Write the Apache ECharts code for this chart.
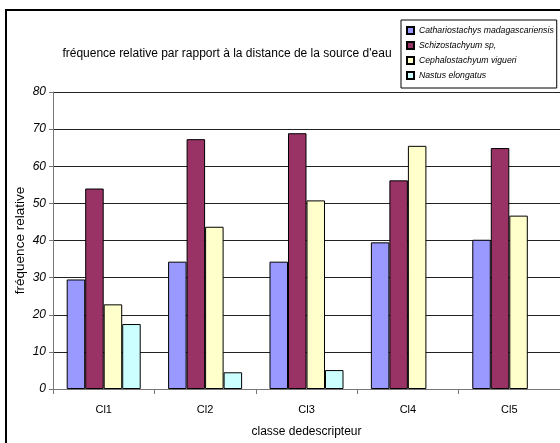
<!DOCTYPE html>
<html>
<head>
<meta charset="utf-8">
<style>
  html, body { margin: 0; padding: 0; background: #fff; }
  #chart { width: 560px; height: 443px; }
</style>
<script src="https://cdn.jsdelivr.net/npm/echarts@6/dist/echarts.min.js"></script>
</head>
<body>
<div id="chart"></div>
<script>
// Distance classes and relative frequency per bamboo species
const categories = ['Cl1', 'Cl2', 'Cl3', 'Cl4', 'Cl5'];
const speciesNames = [
  'Cathariostachys madagascariensis',
  'Schizostachyum sp,',
  'Cephalostachyum vigueri',
  'Nastus elongatus'
];
const cathariostachys = [29.5, 34.3, 34.3, 39.5, 40.2];
const schizostachyum = [54.0, 67.3, 68.9, 56.2, 64.9];
const cephalostachyum = [22.8, 43.7, 50.8, 65.5, 46.7];
const nastus = [17.5, 4.5, 5.1, null, null];
const yTicks = [0, 10, 20, 30, 40, 50, 60, 70, 80];

const seriesValues = [cathariostachys, schizostachyum, cephalostachyum, nastus];
const colors = ['#9999FF', '#993366', '#FFFFCC', '#CCFFFF'];

const chart = echarts.init(document.getElementById('chart'), null, { renderer: 'canvas' });

const font = 'Liberation Sans, Arial, sans-serif';

chart.setOption({
  animation: false,
  backgroundColor: '#fff',
  textStyle: { fontFamily: font, color: '#000' },
  title: {
    text: 'fréquence relative par rapport à la distance de la source d\'eau',
    left: 222,
    top: 43,
    textAlign: 'center',
    textStyle: { fontSize: 12, fontWeight: 'normal', color: '#000', fontFamily: font }
  },
  legend: {
    data: speciesNames,
    orient: 'vertical',
    left: 401,
    top: 20,
    padding: [3, 3, 5, 5],
    itemWidth: 7,
    itemHeight: 7,
    itemGap: 0,
    icon: 'rect',
    backgroundColor: '#fff',
    borderColor: '#000',
    borderWidth: 1,
    borderRadius: 0,
    textStyle: { fontSize: 8.7, fontStyle: 'italic', color: '#000', fontFamily: font, lineHeight: 15 }
  },
  graphic: [{
    type: 'rect',
    shape: { x: 6, y: 10, width: 620, height: 500 },
    style: { fill: 'none', stroke: '#000', lineWidth: 2 },
    z: 0,
    silent: true
  }],
  grid: { left: 53, top: 92, right: 0, bottom: 54, containLabel: false, outerBoundsMode: 'none' },
  xAxis: {
    type: 'category',
    data: categories,
    name: 'classe dedescripteur',
    nameLocation: 'middle',
    nameGap: 37,
    nameMoveOverlap: false,
    nameTextStyle: { fontSize: 12, color: '#000' },
    axisLine: { lineStyle: { color: '#777', width: 1 } },
    axisTick: { show: true, length: 5, lineStyle: { color: '#777' } },
    axisLabel: { fontSize: 11, color: '#000', margin: 15 }
  },
  yAxis: {
    type: 'value',
    min: yTicks[0],
    max: yTicks[yTicks.length - 1],
    interval: 10,
    name: 'fréquence relative',
    nameLocation: 'middle',
    nameGap: 26,
    nameMoveOverlap: false,
    nameTextStyle: { fontSize: 13.5, color: '#000' },
    axisLine: { show: true, lineStyle: { color: '#777', width: 1 } },
    axisTick: { show: true, length: 4, lineStyle: { color: '#777' } },
    axisLabel: { fontSize: 12, fontStyle: 'italic', color: '#000', margin: 7 },
    splitLine: { show: true, lineStyle: { color: '#222', width: 1 } }
  },
  series: seriesValues.map((vals, i) => ({
    name: speciesNames[i],
    type: 'bar',
    data: vals,
    barGap: '0%',
    barCategoryGap: '27%',
    itemStyle: { color: colors[i], borderColor: '#000', borderWidth: 1 }
  }))
});
</script>
</body>
</html>
